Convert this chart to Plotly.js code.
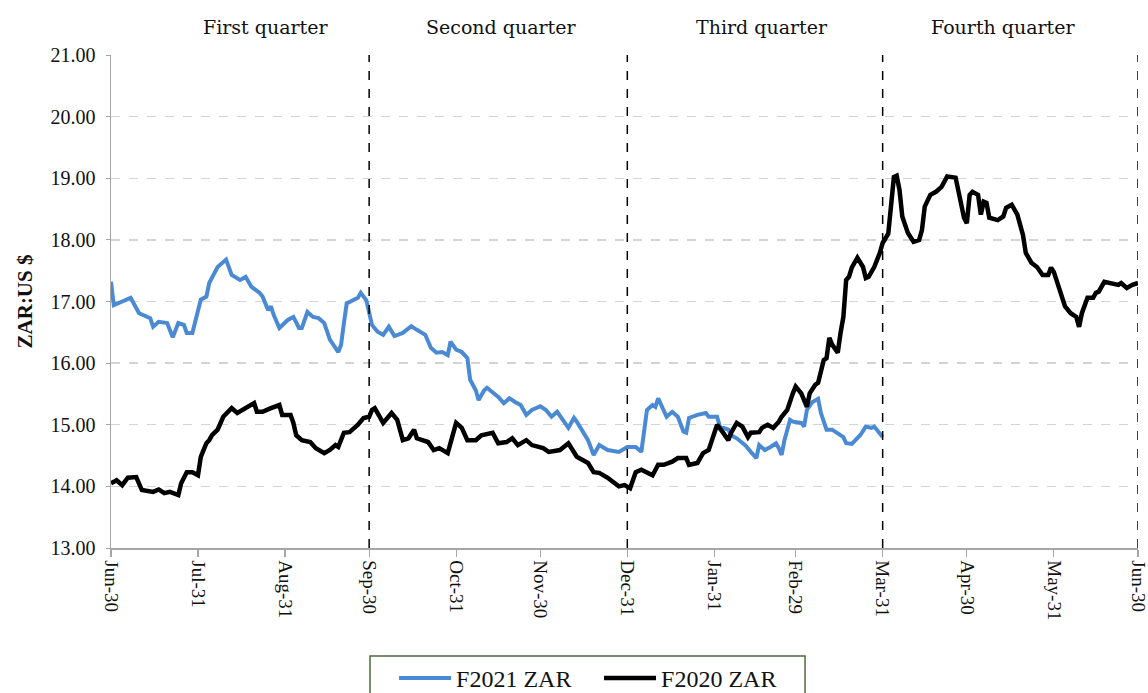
<!DOCTYPE html>
<html>
<head>
<meta charset="utf-8">
<script src="https://cdn.plot.ly/plotly-3.0.1.min.js"></script>
<style>html,body{margin:0;padding:0;background:#fff;}#chart{width:1148px;height:693px;}</style>
</head>
<body>
<div id="chart"></div>
<script>
// Days since Jun-30 (fiscal-year day index)
const f2021Days = [0,1,4,7,10,14,15,17,20,22,24,26,27,29,32,34,35,38,41,43,46,48,50,53,54,56,57,58,60,63,65,67,68,70,72,74,76,78,81,82,83,84,88,89,91,92,93,95,97,99,101,104,107,109,112,114,116,118,120,121,123,125,127,128,130,131,133,134,138,140,142,144,146,148,150,153,155,157,159,163,165,166,170,172,174,177,181,184,187,189,190,191,193,194,195,196,198,200,202,204,205,206,209,212,213,216,217,220,221,223,226,228,230,231,233,235,237,238,239,240,242,243,246,247,248,250,252,253,255,257,261,262,264,267,269,271,272,275];
const f2021Zar  = [17.32,16.94,17.00,17.06,16.81,16.73,16.59,16.67,16.65,16.42,16.65,16.62,16.49,16.49,17.03,17.08,17.30,17.56,17.68,17.43,17.35,17.40,17.24,17.14,17.08,16.86,16.92,16.78,16.57,16.70,16.75,16.57,16.57,16.83,16.75,16.73,16.65,16.38,16.18,16.30,16.65,16.97,17.06,17.14,17.02,16.80,16.62,16.51,16.46,16.59,16.44,16.49,16.60,16.54,16.46,16.25,16.17,16.18,16.13,16.35,16.22,16.18,16.08,15.73,15.56,15.40,15.56,15.60,15.45,15.35,15.43,15.37,15.32,15.16,15.24,15.30,15.24,15.13,15.21,14.95,15.11,15.05,14.75,14.51,14.67,14.59,14.56,14.64,14.64,14.56,14.92,15.24,15.32,15.29,15.43,15.32,15.13,15.21,15.13,14.89,14.87,15.11,15.16,15.19,15.13,15.13,14.97,14.92,14.83,14.78,14.67,14.56,14.46,14.67,14.59,14.64,14.70,14.62,14.51,14.75,15.08,15.05,15.03,14.97,15.24,15.37,15.42,15.19,14.92,14.92,14.80,14.70,14.69,14.83,14.97,14.95,14.97,14.80];

const f2020Days = [0,2,4,6,9,10,11,15,17,19,21,24,25,27,29,31,32,34,35,36,38,40,42,43,45,47,48,51,52,54,57,60,61,64,65,66,68,71,73,76,78,80,81,83,85,88,90,92,93,94,97,100,102,104,106,108,109,113,115,117,120,122,123,125,127,130,132,136,138,141,143,145,148,150,154,156,160,163,165,166,170,172,174,177,181,183,185,187,189,191,193,195,197,200,202,205,206,209,211,213,215,216,218,220,221,223,225,227,228,231,232,234,236,238,239,241,243,244,246,248,249,251,252,253,254,255,256,257,259,260,261,262,263,264,266,268,269,270,272,274,275,277,278,279,280,281,282,284,286,288,289,290,292,294,296,298,301,302,303,304,305,306,307,309,310,311,312,313,316,318,319,320,321,323,325,326,328,330,332,334,335,336,338,340,342,344,345,346,348,350,351,352,354,356,359,360,362,364,366];
const f2020Zar  = [14.05,14.10,14.02,14.14,14.15,14.02,13.94,13.91,13.95,13.89,13.91,13.86,14.05,14.23,14.23,14.18,14.48,14.70,14.75,14.83,14.92,15.13,15.24,15.27,15.19,15.24,15.27,15.35,15.21,15.21,15.27,15.32,15.16,15.16,15.03,14.83,14.75,14.72,14.62,14.54,14.59,14.67,14.64,14.87,14.88,15.00,15.11,15.13,15.24,15.27,15.03,15.19,15.08,14.75,14.78,14.92,14.78,14.72,14.59,14.62,14.54,14.87,15.03,14.95,14.75,14.75,14.83,14.87,14.70,14.72,14.78,14.67,14.75,14.67,14.62,14.56,14.59,14.70,14.56,14.48,14.38,14.23,14.22,14.14,14.00,14.02,13.97,14.23,14.27,14.22,14.18,14.35,14.35,14.40,14.46,14.46,14.35,14.38,14.54,14.59,14.87,15.00,14.88,14.75,14.87,15.03,14.97,14.80,14.87,14.88,14.95,15.00,14.95,15.05,15.13,15.24,15.51,15.62,15.51,15.29,15.51,15.65,15.68,15.89,16.05,16.08,16.41,16.30,16.17,16.49,16.75,17.35,17.40,17.55,17.71,17.56,17.38,17.40,17.56,17.79,17.95,18.10,18.60,19.02,19.04,18.81,18.38,18.11,17.97,18.00,18.16,18.54,18.73,18.78,18.86,19.03,19.01,18.76,18.54,18.36,18.27,18.73,18.78,18.73,18.41,18.62,18.60,18.36,18.32,18.38,18.52,18.54,18.57,18.41,18.08,17.79,17.63,17.56,17.43,17.43,17.55,17.48,17.19,16.92,16.81,16.75,16.59,16.81,17.06,17.06,17.14,17.16,17.32,17.30,17.27,17.30,17.22,17.27,17.30];

const tickDays   = [0,31,62,92,123,153,184,215,244,275,305,336,366];
const tickLabels = ['Jun-30','Jul-31','Aug-31','Sep-30','Oct-31','Nov-30','Dec-31','Jan-31','Feb-29','Mar-31','Apr-30','May-31','Jun-30'];
const quarterEnds   = [92,184,275,366];
const quarterNames  = ['First quarter','Second quarter','Third quarter','Fourth quarter'];
const quarterLabelX = [55,139,232,318];

const SERIF = '"Times New Roman", "Liberation Serif", Times, serif';
const WIDE_SERIF = '"DejaVu Serif", serif';

const traces = [
  {x: f2021Days, y: f2021Zar, name: 'F2021 ZAR', type: 'scatter', mode: 'lines',
   line: {color: '#4a8ad4', width: 4}},
  {x: f2020Days, y: f2020Zar, name: 'F2020 ZAR', type: 'scatter', mode: 'lines',
   line: {color: '#000000', width: 4.5}}
];

const shapes = quarterEnds.map(d => ({
  type: 'line', xref: 'x', yref: 'paper', x0: d, x1: d, y0: 0, y1: 1,
  line: {color: '#000', width: 1.5, dash: 'dash'}
}));
// legend frame
shapes.push({type: 'rect', xref: 'paper', yref: 'paper', x0: 0.2522, x1: 0.6758, y0: -0.2191, y1: -0.36,
  line: {color: '#4d6b3c', width: 1.5}, fillcolor: 'rgba(0,0,0,0)'});

const annotations = quarterNames.map((t, i) => ({
  text: t, xref: 'x', yref: 'paper', x: quarterLabelX[i], y: 1.057,
  xanchor: 'center', yanchor: 'middle', showarrow: false,
  font: {family: WIDE_SERIF, size: 19, color: '#111'}
}));

const layout = {
  width: 1148, height: 693,
  margin: {l: 111, r: 10, t: 55, b: 145, autoexpand: false},
  paper_bgcolor: '#fff', plot_bgcolor: '#fff',
  font: {family: SERIF, size: 20, color: '#111'},
  showlegend: true,
  legend: {
    orientation: 'h', x: 0.2756, xanchor: 'left', y: -0.219, yanchor: 'top',
    borderwidth: 0, bgcolor: 'rgba(0,0,0,0)',
    font: {family: SERIF, size: 24, color: '#111'},
    itemwidth: 52, entrywidth: 138, entrywidthmode: 'pixels', tracegroupgap: 0
  },
  xaxis: {
    range: [0, 366], tickmode: 'array', tickvals: tickDays, ticktext: tickLabels,
    tickangle: 90, showgrid: false, zeroline: false,
    showline: true, linecolor: '#a6a6a6', linewidth: 1.5,
    ticks: 'outside', ticklen: 7, tickcolor: '#a6a6a6', tickwidth: 1.2,
    ticklabeloverflow: 'allow',
    tickfont: {family: SERIF, size: 19, color: '#111'}, automargin: false
  },
  yaxis: {
    range: [13, 21], dtick: 1, tick0: 13, tickformat: '.2f',
    showgrid: true, gridcolor: '#d4d4d4', gridwidth: 1.3, griddash: 'dash',
    zeroline: false, showline: true, linecolor: '#a6a6a6', linewidth: 1.5,
    ticks: 'outside', ticklen: 4, tickcolor: '#a6a6a6',
    tickfont: {family: SERIF, size: 20, color: '#111'}, automargin: false,
    ticklabelstandoff: 6,
    title: {text: '<b>ZAR:US $</b>', font: {family: SERIF, size: 21, color: '#111'}, standoff: 12}
  },
  shapes: shapes,
  annotations: annotations
};

Plotly.newPlot('chart', traces, layout, {displayModeBar: false, staticPlot: true});
</script>
</body>
</html>
